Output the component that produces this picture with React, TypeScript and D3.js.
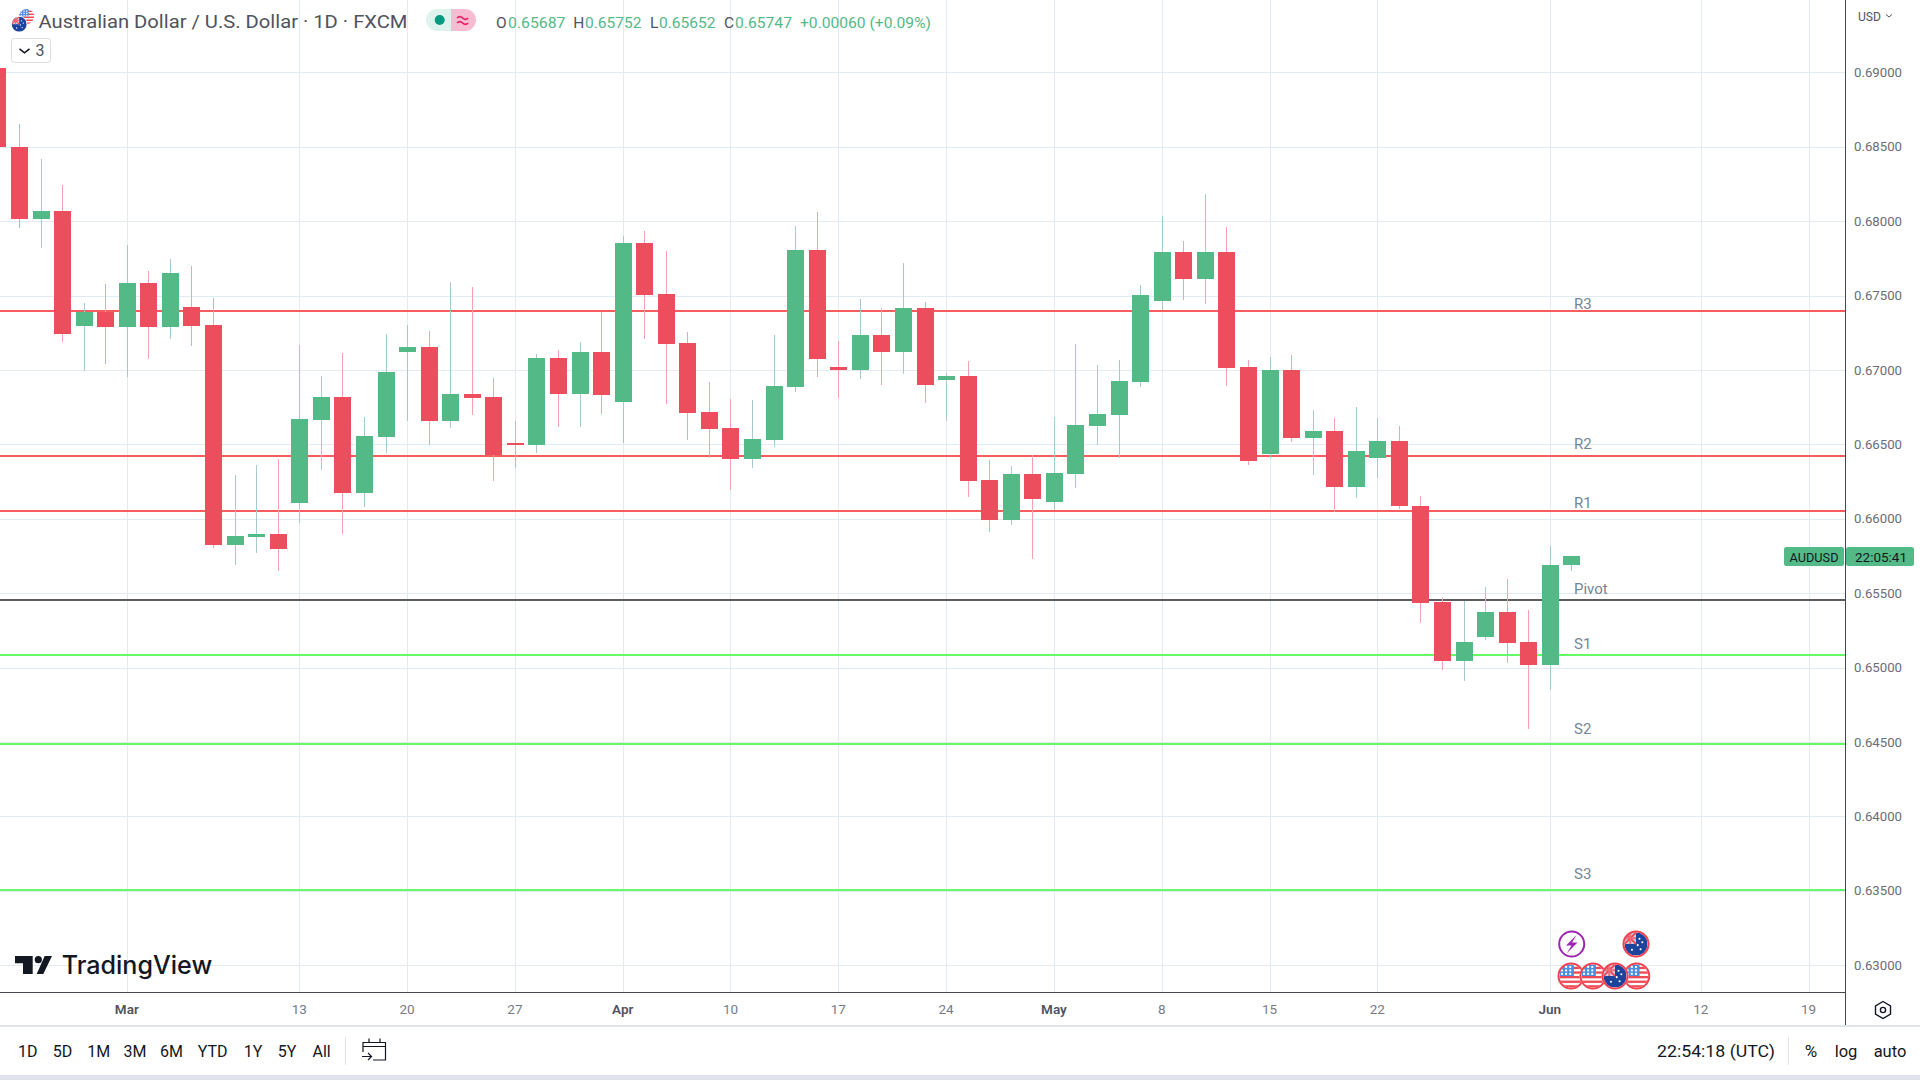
import React from "react";
import * as d3 from "d3";

// Candles, oldest first. The first six are the late-February sessions.
const opens = [0.6903,0.68499,0.68012,0.68069,0.67297,0.67388,0.67287,0.67587,0.67292,0.67424,0.67304,0.65826,0.65879,0.659,0.66109,0.66666,0.66819,0.66176,0.66551,0.67122,0.67155,0.66659,0.66837,0.66817,0.66507,0.66494,0.6708,0.66839,0.6712,0.66785,0.67854,0.67511,0.67181,0.66716,0.66608,0.66402,0.6653,0.66886,0.67807,0.67019,0.66999,0.67234,0.6712,0.67416,0.66931,0.66958,0.66258,0.65995,0.66298,0.6611,0.66298,0.66622,0.66696,0.66918,0.67463,0.67793,0.67612,0.67793,0.67019,0.66433,0.66999,0.66541,0.66588,0.66211,0.66406,0.66521,0.66089,0.65439,0.65043,0.65204,0.65371,0.6517,0.65016,0.65687];
const closes = [0.68496,0.68012,0.68069,0.67239,0.67388,0.67287,0.67587,0.67292,0.67654,0.67297,0.65826,0.65886,0.659,0.658,0.66673,0.66819,0.66176,0.66558,0.66987,0.67155,0.66659,0.66841,0.6681,0.66426,0.66494,0.6708,0.66839,0.6712,0.66833,0.67854,0.67504,0.67176,0.66711,0.66601,0.66402,0.66534,0.66891,0.67807,0.67075,0.66999,0.67234,0.6712,0.67416,0.66898,0.66958,0.66251,0.65995,0.66298,0.6613,0.66305,0.66628,0.66702,0.66925,0.67504,0.67793,0.67612,0.67793,0.67012,0.66386,0.66999,0.66541,0.66588,0.66211,0.66453,0.66521,0.66083,0.65432,0.65043,0.6517,0.65371,0.65163,0.65016,0.65687,0.65747];
const highs = [0.6906,0.68655,0.68419,0.68244,0.67453,0.6758,0.67841,0.67666,0.67748,0.677,0.67486,0.66296,0.66363,0.66404,0.6717,0.66961,0.67117,0.66685,0.67244,0.67304,0.67263,0.67592,0.67558,0.66945,0.66655,0.67106,0.67133,0.67187,0.67389,0.67901,0.67935,0.678,0.67255,0.66918,0.66803,0.66797,0.67234,0.67969,0.68063,0.67194,0.67477,0.67416,0.67719,0.67457,0.66981,0.67059,0.66393,0.66352,0.66426,0.66682,0.67174,0.67032,0.67066,0.67571,0.68036,0.67868,0.68184,0.67962,0.67066,0.67086,0.671,0.66729,0.66675,0.6675,0.66675,0.66622,0.6615,0.6547,0.65445,0.65539,0.65593,0.65385,0.65814,0.65752];
const lows = [0.6845,0.67952,0.67817,0.67191,0.6699,0.67042,0.66956,0.67071,0.67206,0.67162,0.65807,0.65687,0.65769,0.65646,0.65975,0.66325,0.659,0.66076,0.66445,0.66659,0.66498,0.66608,0.66698,0.66253,0.66341,0.66442,0.66617,0.66617,0.66705,0.66507,0.6721,0.66772,0.6653,0.66408,0.66193,0.66341,0.66482,0.6685,0.66954,0.66812,0.66938,0.66898,0.66972,0.66779,0.66657,0.66146,0.65914,0.65955,0.65733,0.66056,0.66204,0.66494,0.66406,0.66884,0.67403,0.6747,0.67443,0.66891,0.66359,0.66406,0.66514,0.66292,0.66049,0.66143,0.66271,0.66069,0.65298,0.64982,0.64908,0.65183,0.65029,0.64586,0.64848,0.65652];

const priceTicks = [0.63,0.635,0.64,0.645,0.65,0.655,0.66,0.665,0.67,0.675,0.68,0.685,0.69];
const timeLabels = ["Mar","13","20","27","Apr","10","17","24","May","8","15","22","Jun","12","19"];
const timeIndexes = [6,14,19,24,29,34,39,44,49,54,59,64,72,79,84];
const monthLabels = ["Mar","Apr","May","Jun"];

const pivotNames = ["R3","R2","R1","Pivot","S1","S2","S3"];
const pivotLevels = [0.67393,0.66423,0.66053,0.65454,0.65083,0.64487,0.63508];
const pivotLabelPrices = [0.67445,0.66507,0.66106,0.65528,0.6516,0.64587,0.63615];
const pivotColors = ["#f85c5c","#f85c5c","#f85c5c","#5d5d5d","#66fb66","#66fb66","#66fb66"];

const rangeLabels = ["1D","5D","1M","3M","6M","YTD","1Y","5Y","All"];
const rangeCenters = [27.7,62.4,98.8,135,171.4,212.7,253,287,321.6];

const UP = "#53b987";
const DOWN = "#ec4e5e";
const UP_WICK = "#a4ccce";
const DOWN_WICK = "#f7a0ae";
const GRID = "#e2ebf1";
const AXIS = "#434651";
const FONT = "Roboto, 'Noto Sans', sans-serif";

const y = d3.scaleLinear().domain([0.69, 0.63]).range([72.3, 965.3]);
const x = d3.scaleLinear().domain([6, 72]).range([127.3, 1550.3]);
const snap = (v: number) => Math.round(v);
const px = (v: number) => Math.floor(v);

function UsFlag({ cx, cy, r, id }: { cx: number; cy: number; r: number; id: string }) {
  const stripes = d3.range(5);
  const dots = d3.range(9);
  return (
    <g>
      <clipPath id={id}><circle cx={cx} cy={cy} r={r} /></clipPath>
      <g clipPath={`url(#${id})`}>
        <rect x={cx - r} y={cy - r} width={2 * r} height={2 * r} fill="#fff" />
        {stripes.map((s) => (
          <rect key={s} x={cx - r} y={cy - r + ((s * 2 + 1) * r) / 5} width={2 * r} height={r / 5} fill="#ef4a54" />
        ))}
        <rect x={cx - r} y={cy - r} width={r * 1.25} height={r} fill="#4a8fe0" />
        {dots.map((d) => (
          <rect key={d} x={cx - r + 1.5 + (d % 3) * r * 0.36} y={cy - r + 1.5 + Math.floor(d / 3) * r * 0.3} width={r * 0.17} height={r * 0.17} fill="#fff" />
        ))}
      </g>
    </g>
  );
}

function AuFlag({ cx, cy, r, id }: { cx: number; cy: number; r: number; id: string }) {
  const stars: [number, number][] = [[0.4, 0.45], [0.55, -0.15], [0.15, 0.1], [0.3, -0.45], [-0.35, 0.5]];
  return (
    <g>
      <clipPath id={id}><circle cx={cx} cy={cy} r={r} /></clipPath>
      <g clipPath={`url(#${id})`}>
        <rect x={cx - r} y={cy - r} width={2 * r} height={2 * r} fill="#1c449c" />
        <rect x={cx - r} y={cy - r} width={r} height={r} fill="#c9cfe6" />
        <path d={`M${cx - r} ${cy - r}L${cx} ${cy}M${cx} ${cy - r}L${cx - r} ${cy}`} stroke="#ef4a54" strokeWidth={r * 0.16} />
        <path d={`M${cx - r / 2} ${cy - r}V${cy}M${cx - r} ${cy - r / 2}H${cx}`} stroke="#ef6a74" strokeWidth={r * 0.18} />
        {stars.map(([a, b], i) => (
          <circle key={i} cx={cx + a * r} cy={cy + b * r} r={r * 0.09} fill="#fff" />
        ))}
      </g>
    </g>
  );
}

function EventRing({ cx, cy, children }: { cx: number; cy: number; children: React.ReactNode }) {
  return (
    <g>
      <circle cx={cx} cy={cy} r={13.5} fill="#fff" />
      {children}
      <circle cx={cx} cy={cy} r={12.5} fill="none" stroke="#f4404e" strokeWidth={2} />
    </g>
  );
}

export default function App() {
  const candles = opens.map((o, i) => ({ o, c: closes[i], h: highs[i], l: lows[i], i }));
  return (
    <svg
      width={1920}
      height={1080}
      viewBox="0 0 1920 1080"
      style={{ position: "absolute", left: 0, top: 0, background: "#fff", fontFamily: FONT }}
    >
      <rect width={1920} height={1080} fill="#fff" />

      <g shapeRendering="crispEdges">
        {priceTicks.map((p) => (
          <line key={p} x1={0} x2={1845} y1={snap(y(p)) + 0.5} y2={snap(y(p)) + 0.5} stroke={GRID} />
        ))}
        {timeIndexes.map((t) => (
          <line key={t} x1={px(x(t)) + 0.5} x2={px(x(t)) + 0.5} y1={0} y2={992} stroke={GRID} />
        ))}
      </g>

      {pivotLevels.map((p, i) => (
        <line key={pivotNames[i]} x1={0} x2={1845} y1={y(p)} y2={y(p)} stroke={pivotColors[i]} strokeWidth={2} shapeRendering="crispEdges" />
      ))}
      {pivotNames.map((n, i) => (
        <text key={n} x={1574} y={y(pivotLabelPrices[i])} dy="0.35em" fontSize={15} fill="#758696">{n}</text>
      ))}

      <g shapeRendering="crispEdges">
        {candles.map((d) => {
          const cx = x(d.i);
          const up = d.c >= d.o;
          const top = y(Math.max(d.o, d.c));
          const bottom = y(Math.min(d.o, d.c));
          return (
            <g key={d.i}>
              <rect x={px(cx)} y={y(d.h)} width={1} height={y(d.l) - y(d.h)} fill={up ? UP_WICK : DOWN_WICK} />
              <rect x={px(cx) - 8} y={top} width={17} height={Math.max(bottom - top, 2)} fill={up ? UP : DOWN} />
            </g>
          );
        })}
      </g>

      {/* Header */}
      <UsFlag cx={26.7} cy={16.5} r={7.5} id="hdrUs" />
      <circle cx={19.2} cy={24.2} r={8.2} fill="#fff" />
      <AuFlag cx={19.2} cy={24.2} r={7.5} id="hdrAu" />
      <text x={38.5} y={21.5} dy="0.35em" fontSize={18} fill="#50535e" textLength={369} lengthAdjust="spacingAndGlyphs">Australian Dollar / U.S. Dollar · 1D · FXCM</text>
      <path d="M437 9H451V31H437a11 11 0 0 1 0-22Z" fill="#dff3ee" />
      <path d="M451 9H465a11 11 0 0 1 0 22H451Z" fill="#f8bcd2" />
      <circle cx={439.7} cy={20} r={5} fill="#089981" />
      <g fill="none" stroke="#e91e63" strokeWidth={1.7}>
        <path d="M457 18q2.8-2.8 5.6 0t5.6 0" />
        <path d="M457 23q2.8-2.8 5.6 0t5.6 0" />
      </g>
      <g fontSize={15.5}>
        <text x={496} y={22.5} dy="0.35em" fill="#50535e">O</text>
        <text x={508} y={22.5} dy="0.35em" fill={UP} textLength={57.5} lengthAdjust="spacingAndGlyphs">0.65687</text>
        <text x={573.3} y={22.5} dy="0.35em" fill="#50535e">H</text>
        <text x={585} y={22.5} dy="0.35em" fill={UP} textLength={56.5} lengthAdjust="spacingAndGlyphs">0.65752</text>
        <text x={650} y={22.5} dy="0.35em" fill="#50535e">L</text>
        <text x={659} y={22.5} dy="0.35em" fill={UP} textLength={56.5} lengthAdjust="spacingAndGlyphs">0.65652</text>
        <text x={724} y={22.5} dy="0.35em" fill="#50535e">C</text>
        <text x={735} y={22.5} dy="0.35em" fill={UP} textLength={57} lengthAdjust="spacingAndGlyphs">0.65747</text>
        <text x={800} y={22.5} dy="0.35em" fill={UP} textLength={131} lengthAdjust="spacingAndGlyphs">+0.00060 (+0.09%)</text>
      </g>
      <rect x={11.5} y={38.5} width={39} height={24} rx={3} fill="#fff" stroke="#dcdde3" />
      <path d="M19.5 48.8l5 4 5-4" fill="none" stroke="#131722" strokeWidth={1.6} />
      <text x={40} y={50} dy="0.35em" textAnchor="middle" fontSize={16} fill="#50535e">3</text>

      {/* Logo */}
      <path d="M15 956H32.7V974H23V963.3H15Z" fill="#131722" />
      <circle cx={38.3} cy={959.7} r={3.6} fill="#131722" />
      <path d="M44.7 956H52L43.3 974H36.7Z" fill="#131722" />
      <text x={61.7} y={974} fontFamily="Inter, sans-serif" fontSize={25} fontWeight={500} fill="#131722" textLength={150.5} lengthAdjust="spacingAndGlyphs">TradingView</text>

      {/* Events */}
      <circle cx={1571.7} cy={944} r={12.5} fill="#fff" stroke="#9c27b0" strokeWidth={2} />
      <path d="M1576.5 935L1566 945.5H1571.5L1567 953L1577.5 942.5H1572Z" fill="#9c27b0" />
      <EventRing cx={1636} cy={944}><AuFlag cx={1636} cy={944} r={11.5} id="evAu1" /></EventRing>
      <EventRing cx={1571} cy={976}><UsFlag cx={1571} cy={976} r={11.5} id="evUs1" /></EventRing>
      <EventRing cx={1593} cy={976}><UsFlag cx={1593} cy={976} r={11.5} id="evUs2" /></EventRing>
      <EventRing cx={1636.7} cy={976}><UsFlag cx={1636.7} cy={976} r={11.5} id="evUs3" /></EventRing>
      <EventRing cx={1615} cy={976}><AuFlag cx={1615} cy={976} r={11.5} id="evAu2" /></EventRing>

      {/* Axes */}
      <rect x={1845} y={0} width={75} height={1026} fill="#fff" />
      <rect x={0} y={992} width={1845} height={34} fill="#fff" />
      <line x1={0} x2={1845} y1={992.5} y2={992.5} stroke={AXIS} strokeWidth={1} shapeRendering="crispEdges" />
      <line x1={1845.5} x2={1845.5} y1={0} y2={1026} stroke={AXIS} strokeWidth={1} shapeRendering="crispEdges" />
      {priceTicks.map((p) => (
        <text key={p} x={1854} y={y(p)} dy="0.35em" fontSize={13} fill="#6a6d78" textLength={48} lengthAdjust="spacingAndGlyphs">{d3.format(".5f")(p)}</text>
      ))}
      <text x={1858} y={16} dy="0.35em" fontSize={13} fill="#50535e" textLength={23} lengthAdjust="spacingAndGlyphs">USD</text>
      <path d="M1886 14.5l3 2.5 3-2.5" fill="none" stroke="#50535e" />
      {timeLabels.map((l, i) => (
        <text key={l + i} x={x(timeIndexes[i]) - 0.5} y={1009.5} dy="0.35em" textAnchor="middle" fontSize={13.5} fontWeight={monthLabels.includes(l) ? 600 : 400} fill={monthLabels.includes(l) ? "#50535e" : "#787b86"}>{l}</text>
      ))}
      <path d="M1883 1001.5l7.5 4.3v8.4l-7.5 4.3-7.5-4.3v-8.4Z" fill="none" stroke="#131722" strokeWidth={1.4} />
      <circle cx={1883} cy={1010} r={2.6} fill="none" stroke="#131722" strokeWidth={1.4} />

      {/* Last-price badge */}
      <rect x={1784} y={547} width={60} height={19} rx={2.5} fill={UP} />
      <rect x={1846} y={547} width={68} height={19} rx={2.5} fill={UP} />
      <text x={1814} y={557} dy="0.35em" textAnchor="middle" fontSize={13.5} fill="#131722" textLength={49} lengthAdjust="spacingAndGlyphs">AUDUSD</text>
      <text x={1881} y={557} dy="0.35em" textAnchor="middle" fontSize={13.5} fill="#131722" textLength={52} lengthAdjust="spacingAndGlyphs">22:05:41</text>

      {/* Toolbar */}
      <line x1={0} x2={1920} y1={1026} y2={1026} stroke="#e0e3eb" strokeWidth={1.5} shapeRendering="crispEdges" />
      {rangeLabels.map((l, i) => (
        <text key={l} x={rangeCenters[i]} y={1051} dy="0.35em" textAnchor="middle" fontSize={16} fill="#131722">{l}</text>
      ))}
      <line x1={345.5} x2={345.5} y1={1037} y2={1065} stroke="#e0e3eb" />
      <g fill="none" stroke="#131722" strokeWidth={1.2}>
        <path d="M363 1052V1042.5H385.5V1060H373" />
        <path d="M363 1046.5H385.5M369 1038.5V1042.5M380 1038.5V1042.5" />
        <path d="M362 1056.5H371M368 1053l3.5 3.5-3.5 3.5" />
      </g>
      <text x={1657} y={1051} dy="0.35em" fontSize={17} fill="#131722" textLength={118} lengthAdjust="spacingAndGlyphs">22:54:18 (UTC)</text>
      <line x1={1788.5} x2={1788.5} y1={1037} y2={1065} stroke="#e0e3eb" />
      <text x={1811} y={1051} dy="0.35em" textAnchor="middle" fontSize={17} fill="#131722">%</text>
      <text x={1846} y={1051} dy="0.35em" textAnchor="middle" fontSize={16.5} fill="#131722">log</text>
      <text x={1890} y={1051} dy="0.35em" textAnchor="middle" fontSize={16.5} fill="#131722">auto</text>
      <rect x={0} y={1075} width={1920} height={5} fill="#e0e3eb" />
    </svg>
  );
}
